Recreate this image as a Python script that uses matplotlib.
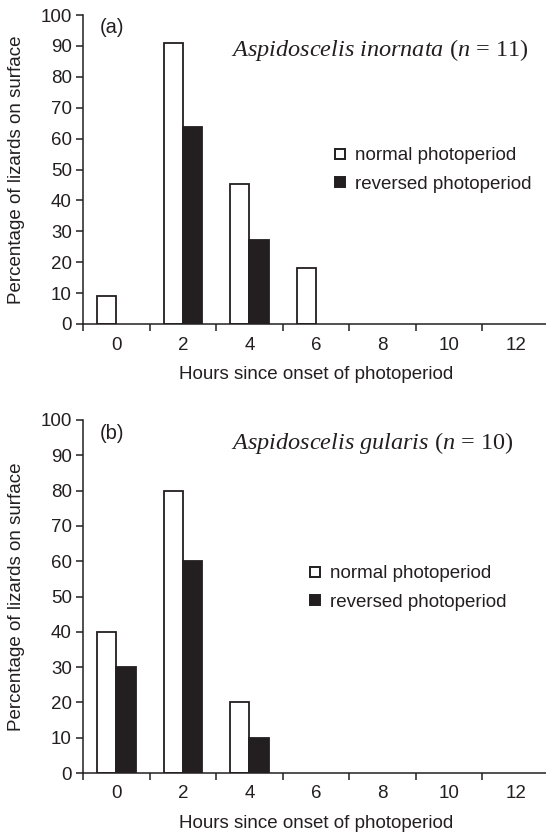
import matplotlib
matplotlib.use("Agg")
import matplotlib.pyplot as plt
from matplotlib.lines import Line2D
import numpy as np

hours = ["0", "2", "4", "6", "8", "10", "12"]
inornata_normal = [9.09, 90.91, 45.45, 18.18, 0, 0, 0]
inornata_reversed = [0, 63.64, 27.27, 0, 0, 0, 0]
gularis_normal = [40, 80, 20, 0, 0, 0, 0]
gularis_reversed = [30, 60, 10, 0, 0, 0, 0]
yticks = [0, 10, 20, 30, 40, 50, 60, 70, 80, 90, 100]

INK = "#231f20"
plt.rcParams["font.family"] = ["Liberation Sans", "DejaVu Sans"]
plt.rcParams["text.color"] = INK
plt.rcParams["mathtext.fontset"] = "custom"
plt.rcParams["mathtext.it"] = "Liberation Serif:italic"
plt.rcParams["mathtext.rm"] = "Liberation Serif"
FS = 13.5

fig = plt.figure(figsize=(5.46, 8.34), dpi=100)
W, H = 546, 834

def make_ax(y0_px, y100_px):
    left = 83 / W
    width = 466 / W
    bottom = 1 - y0_px / H
    height = (y0_px - y100_px) / H
    return fig.add_axes([left, bottom, width, height])

def draw(ax, normal, reversed_, label, species, n, sp_xy, leg_xy):
    x = np.arange(len(hours))
    bw = 0.29
    ax.bar(x - bw / 2, normal, width=bw, color="white", edgecolor=INK,
           linewidth=[1.3 if v > 0 else 0 for v in normal])
    ax.bar(x + bw / 2, reversed_, width=bw, color=INK, edgecolor=INK,
           linewidth=[1.3 if v > 0 else 0 for v in reversed_])
    ax.set_xlim(-0.5, 6.5)
    ax.set_ylim(0, 100)
    ax.set_yticks(yticks)
    ax.set_yticklabels([str(v) for v in yticks])
    ax.set_xticks(np.arange(-0.5, 6.5, 1.0))
    ax.set_xticklabels([])
    ax.set_xticks(x, minor=True)
    ax.set_xticklabels(hours, minor=True)
    ax.tick_params(axis="x", which="major", direction="out", length=5, width=1.1, color=INK)
    ax.tick_params(axis="x", which="minor", length=0, pad=9, labelsize=FS, labelcolor=INK)
    ax.tick_params(axis="y", direction="out", length=5, width=1.1, color=INK, pad=3,
                   labelsize=FS, labelcolor=INK)
    for s in ["top", "right"]:
        ax.spines[s].set_visible(False)
    for s in ["left", "bottom"]:
        ax.spines[s].set_linewidth(1.1)
        ax.spines[s].set_color(INK)
    ax.set_xlabel("Hours since onset of photoperiod", fontsize=FS, color=INK, labelpad=9)
    ax.set_ylabel("Percentage of lizards on surface", fontsize=FS, color=INK)
    ax.yaxis.set_label_coords(-0.125, 0.5)
    ax.text(0.035, 0.99, label, transform=ax.transAxes, fontsize=14.5, va="top", ha="left")
    ax.text(sp_xy[0] / W, 1 - sp_xy[1] / H, species + r" ($\mathit{n}$ = " + n + ")",
            transform=fig.transFigure, ha="right", va="center", fontsize=17.5,
            family=["Liberation Serif", "DejaVu Serif"])
    handles = [
        Line2D([], [], linestyle="none", marker="s", markersize=7.5, markerfacecolor="white",
               markeredgecolor=INK, markeredgewidth=1.4),
        Line2D([], [], linestyle="none", marker="s", markersize=7.5, markerfacecolor=INK,
               markeredgecolor=INK, markeredgewidth=1.4),
    ]
    ax.legend(handles, ["normal photoperiod", "reversed photoperiod"], frameon=False,
              loc="upper left", bbox_to_anchor=leg_xy, bbox_transform=fig.transFigure,
              fontsize=FS, handlelength=0.6, handletextpad=0.5, labelspacing=0.62,
              borderpad=0, borderaxespad=0)

ax1 = make_ax(324, 15)
draw(ax1, inornata_normal, inornata_reversed, "(a)", r"$\mathit{Aspidoscelis\ inornata}$", "11",
     (528, 50), (334 / W, 1 - 147 / H))
ax2 = make_ax(773, 420)
draw(ax2, gularis_normal, gularis_reversed, "(b)", r"$\mathit{Aspidoscelis\ gularis}$", "10",
     (513, 443), (309 / W, 1 - 565 / H))

fig.savefig("out.png", dpi=100)
